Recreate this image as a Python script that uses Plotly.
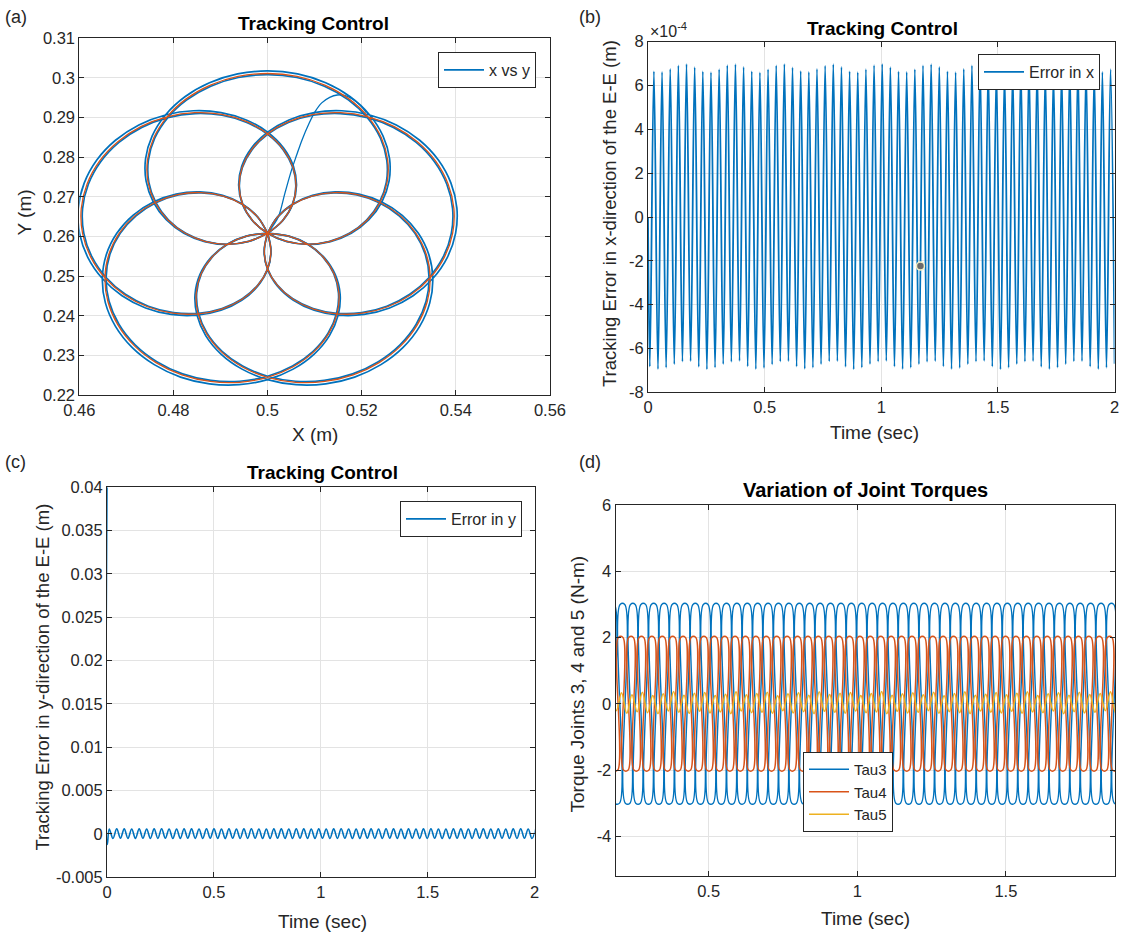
import numpy as np
import plotly.graph_objects as go

W, H = 1130, 934

BLUE = "#0072BD"
ORANGE = "#D95319"
YELLOW = "#EDB120"
INK = "#262626"
GRID = "#e3e3e3"
FONT = "Liberation Sans, Arial, Helvetica, sans-serif"

# ---------------- (a) end-effector path in the X-Y plane ----------------
path_centre_x = 0.5
path_centre_y = 0.2608
petal_reach = 0.0404                        # m, centre-to-tip length of a petal
petal_axis_deg = [90, 162, 234, 306, 18]    # petal directions, traversal order
# half-petal profile: angle from the petal axis (deg), radius as fraction of reach
petal_psi_deg = [0, 9, 18, 27, 36, 45, 54, 63, 72, 81, 90, 99, 108, 117, 126]
petal_radius = [1.000, 0.994, 0.975, 0.944, 0.901, 0.847, 0.782, 0.707,
                0.623, 0.532, 0.434, 0.330, 0.223, 0.112, 0.000]
desired_reach_scale = 0.998
actual_reach_scale = [1.014, 0.991]         # two tracked laps of the actual path
# start-up transient of the actual path
start_x = [0.5000, 0.5012, 0.5023, 0.5037, 0.5051, 0.5062, 0.5073, 0.5088,
           0.5101, 0.5115, 0.5132, 0.5148, 0.5163, 0.5180, 0.5196, 0.5210]
start_y = [0.2608, 0.2628, 0.2650, 0.2710, 0.2768, 0.2806, 0.2843, 0.2885,
           0.2915, 0.2937, 0.2951, 0.2957, 0.2956, 0.2947, 0.2932, 0.2912]

# ---------------- (b) tracking error in x (units of 1e-4 m) ----------------
ex_start = 0.0
ex_first_extreme_t = 0.0078
ex_half_period = 0.01748
ex_troughs = [-6.83, -6.94, -6.88, -6.72, -6.60, -6.58,
              -6.84, -6.95, -6.87, -6.71, -6.61, -6.57,
              -6.82, -6.94, -6.89, -6.73, -6.60, -6.58,
              -6.83, -6.93, -6.88, -6.72, -6.59, -6.58,
              -6.84, -6.95, -6.87, -6.71, -6.60, -6.57,
              -6.83, -6.94, -6.88, -6.72, -6.61, -6.58,
              -6.82, -6.94, -6.89, -6.72, -6.60, -6.57,
              -6.83, -6.95, -6.88, -6.71, -6.60, -6.58,
              -6.84, -6.94, -6.87, -6.72, -6.59, -6.58,
              -6.83, -6.94, -6.88, -6.70]
ex_peaks = [6.65, 6.62, 6.76, 6.92, 6.98, 6.84,
            6.64, 6.61, 6.75, 6.93, 6.97, 6.85,
            6.65, 6.60, 6.74, 6.92, 6.98, 6.83,
            6.66, 6.62, 6.76, 6.91, 6.97, 6.85,
            6.65, 6.61, 6.75, 6.93, 6.98, 6.84,
            6.64, 6.62, 6.74, 6.92, 6.97, 6.85,
            6.65, 6.61, 6.76, 6.92, 6.98, 6.84,
            6.66, 6.62, 6.75, 6.91, 6.97, 6.85,
            6.65, 6.60, 6.75, 6.93, 6.98, 6.84,
            6.64, 6.62, 6.75]
datatip_t = [1.168]
datatip_e = [-2.24]

# ---------------- (c) tracking error in y (m) ----------------
ey_start = [0.0400, -0.0012]
ey_start_t = [0.0, 0.0015]
ey_first_extreme_t = 0.0105
ey_half_period = 0.0175
ey_peaks = [0.00058, 0.00060, 0.00059, 0.00057, 0.00060, 0.00058, 0.00059, 0.00060,
            0.00058, 0.00057, 0.00060, 0.00059, 0.00058, 0.00060, 0.00059, 0.00057,
            0.00060, 0.00058, 0.00059, 0.00060, 0.00058, 0.00057, 0.00060, 0.00059,
            0.00058, 0.00060, 0.00059, 0.00057, 0.00060, 0.00058, 0.00059, 0.00060,
            0.00058, 0.00057, 0.00060, 0.00059, 0.00058, 0.00060, 0.00059, 0.00057,
            0.00060, 0.00058, 0.00059, 0.00060, 0.00058, 0.00057, 0.00060, 0.00059,
            0.00058, 0.00060, 0.00059, 0.00057, 0.00060, 0.00058, 0.00059, 0.00060,
            0.00058, 0.00059]
ey_troughs = [-0.00052, -0.00050, -0.00051, -0.00053, -0.00050, -0.00052, -0.00051, -0.00050,
              -0.00052, -0.00053, -0.00050, -0.00051, -0.00052, -0.00050, -0.00051, -0.00053,
              -0.00050, -0.00052, -0.00051, -0.00050, -0.00052, -0.00053, -0.00050, -0.00051,
              -0.00052, -0.00050, -0.00051, -0.00053, -0.00050, -0.00052, -0.00051, -0.00050,
              -0.00052, -0.00053, -0.00050, -0.00051, -0.00052, -0.00050, -0.00051, -0.00053,
              -0.00050, -0.00052, -0.00051, -0.00050, -0.00052, -0.00053, -0.00050, -0.00051,
              -0.00052, -0.00050, -0.00051, -0.00053, -0.00050, -0.00052, -0.00051, -0.00050,
              -0.00052]

# ---------------- (d) joint torques (N-m) ----------------
torque_period = 0.035
plateau_half = 0.0078
tau3_phase, tau4_phase, tau5_phase = 0.0, -0.006, -0.003
tau3_high = [3.0, 3.0, 3.0, 3.0, 3.0, 3.0, 3.0, 3.0, 3.0, 3.0, 3.0, 3.0, 3.0, 3.0, 3.0,
             3.0, 3.0, 3.0, 3.0, 3.0, 3.0, 3.0, 3.0, 3.0, 3.0, 3.0, 3.0, 3.0, 3.0, 3.0,
             3.0, 3.0, 3.0, 3.0, 3.0, 3.0, 3.0, 3.0, 3.0, 3.0, 3.0, 3.0, 3.0, 3.0, 3.0,
             3.0, 3.0, 3.0, 3.0, 3.0, 3.0, 3.0, 3.0, 3.0, 3.0, 3.0, 3.0, 3.0]
tau3_low = [-3.0, -3.0, -3.0, -3.0, -3.0, -3.0, -3.0, -3.0, -3.0, -3.0, -3.0, -3.0, -3.0, -3.0, -3.0,
            -3.0, -3.0, -3.0, -3.0, -3.0, -3.0, -3.0, -3.0, -3.0, -3.0, -3.0, -3.0, -3.0, -3.0, -3.0,
            -3.0, -3.0, -3.0, -3.0, -3.0, -3.0, -3.0, -3.0, -3.0, -3.0, -3.0, -3.0, -3.0, -3.0, -3.0,
            -3.0, -3.0, -3.0, -3.0, -3.0, -3.0, -3.0, -3.0, -3.0, -3.0, -3.0, -3.0, -3.0]
tau4_high = [2.0, 2.0, 2.0, 2.0, 2.0, 2.0, 2.0, 2.0, 2.0, 2.0, 2.0, 2.0, 2.0, 2.0, 2.0,
             2.0, 2.0, 2.0, 2.0, 2.0, 2.0, 2.0, 2.0, 2.0, 2.0, 2.0, 2.0, 2.0, 2.0, 2.0,
             2.0, 2.0, 2.0, 2.0, 2.0, 2.0, 2.0, 2.0, 2.0, 2.0, 2.0, 2.0, 2.0, 2.0, 2.0,
             2.0, 2.0, 2.0, 2.0, 2.0, 2.0, 2.0, 2.0, 2.0, 2.0, 2.0, 2.0, 2.0]
tau4_low = [-2.0, -2.0, -2.0, -2.0, -2.0, -2.0, -2.0, -2.0, -2.0, -2.0, -2.0, -2.0, -2.0, -2.0, -2.0,
            -2.0, -2.0, -2.0, -2.0, -2.0, -2.0, -2.0, -2.0, -2.0, -2.0, -2.0, -2.0, -2.0, -2.0, -2.0,
            -2.0, -2.0, -2.0, -2.0, -2.0, -2.0, -2.0, -2.0, -2.0, -2.0, -2.0, -2.0, -2.0, -2.0, -2.0,
            -2.0, -2.0, -2.0, -2.0, -2.0, -2.0, -2.0, -2.0, -2.0, -2.0, -2.0, -2.0, -2.0]
tau5_peak = [0.34, 0.26, 0.30, 0.36, 0.24, 0.31, 0.33, 0.27, 0.35, 0.25, 0.30, 0.37,
             0.26, 0.32, 0.34, 0.25, 0.29, 0.36, 0.27, 0.31, 0.35, 0.24, 0.30, 0.33,
             0.26, 0.36, 0.28, 0.32, 0.34, 0.25, 0.31, 0.37, 0.26, 0.30, 0.33, 0.27,
             0.35, 0.24, 0.31, 0.36, 0.26, 0.29, 0.34, 0.27, 0.32, 0.36, 0.25, 0.30,
             0.33, 0.26, 0.35, 0.28, 0.31, 0.36, 0.24, 0.30, 0.34, 0.27]
tau5_trough = [-0.27, -0.22, -0.30, -0.25, -0.28, -0.21, -0.29, -0.24, -0.27, -0.30,
               -0.22, -0.26, -0.29, -0.23, -0.28, -0.25, -0.30, -0.22, -0.27, -0.26,
               -0.29, -0.21, -0.28, -0.24, -0.30, -0.23, -0.26, -0.29, -0.22, -0.27,
               -0.25, -0.30, -0.23, -0.28, -0.26, -0.21, -0.29, -0.24, -0.27, -0.30,
               -0.22, -0.26, -0.28, -0.23, -0.29, -0.25, -0.27, -0.22, -0.30, -0.24,
               -0.28, -0.26, -0.21, -0.29, -0.25, -0.27, -0.23, -0.28]


# ---------------- helpers ----------------
def paper_x(px):
    return px / W


def paper_y(py):
    return 1 - py / H


def rose_path(scale):
    psi = np.concatenate([-np.array(petal_psi_deg[::-1], float), np.array(petal_psi_deg[1:], float)])
    rad = np.concatenate([np.array(petal_radius[::-1]), np.array(petal_radius[1:])])
    xs, ys = [], []
    for axis in petal_axis_deg:
        ang = np.deg2rad(axis + psi)
        r = petal_reach * scale * rad
        xs.extend(path_centre_x + r * np.cos(ang))
        ys.extend(path_centre_y + r * np.sin(ang))
    return xs, ys


def alternating(first_t, half_period, first_list, second_list):
    ts, vs = [], []
    n = len(first_list) + len(second_list)
    for i in range(n):
        ts.append(first_t + i * half_period)
        vs.append(first_list[i // 2] if i % 2 == 0 else second_list[i // 2])
    return ts, vs


def square_wave(high, low, phase):
    ts, vs = [], []
    for k in range(len(high)):
        c = k * torque_period + phase
        ts += [c - plateau_half, c + plateau_half]
        vs += [high[k], high[k]]
        c2 = c + torque_period / 2
        ts += [c2 - plateau_half, c2 + plateau_half]
        vs += [low[k], low[k]]
    return ts, vs


fig = go.Figure()

# ---- (a) ----
for i, s in enumerate(actual_reach_scale):
    ax_, ay_ = rose_path(s)
    fig.add_trace(go.Scatter(x=ax_, y=ay_, mode="lines", line=dict(color=BLUE, width=1.7, shape="spline"),
                             name="x vs y", showlegend=(i == 0), legend="legend",
                             xaxis="x", yaxis="y", hoverinfo="skip"))
fig.add_trace(go.Scatter(x=start_x, y=start_y, mode="lines", line=dict(color=BLUE, width=1.3, shape="spline"),
                         showlegend=False, xaxis="x", yaxis="y", hoverinfo="skip"))
dx_, dy_ = rose_path(desired_reach_scale)
fig.add_trace(go.Scatter(x=dx_, y=dy_, mode="lines", line=dict(color=ORANGE, width=1.3, shape="spline"),
                         showlegend=False, xaxis="x", yaxis="y", hoverinfo="skip"))

# ---- (b) ----
tb, vb = alternating(ex_first_extreme_t, ex_half_period, ex_troughs, ex_peaks)
fig.add_trace(go.Scatter(x=[ex_start] + tb, y=[0.0] + vb, mode="lines",
                         line=dict(color=BLUE, width=1.8, shape="spline"),
                         name="Error in x", legend="legend2", xaxis="x2", yaxis="y2", hoverinfo="skip"))
fig.add_trace(go.Scatter(x=datatip_t, y=datatip_e, mode="markers",
                         marker=dict(color="#6b6b6b", size=8, line=dict(color="#f3efc4", width=1.5)),
                         showlegend=False, xaxis="x2", yaxis="y2", hoverinfo="skip"))

# ---- (c) ----
tc, vc = alternating(ey_first_extreme_t, ey_half_period, ey_peaks, ey_troughs)
fig.add_trace(go.Scatter(x=ey_start_t + tc, y=ey_start + vc, mode="lines",
                         line=dict(color=BLUE, width=1.6, shape="spline"),
                         name="Error in y", legend="legend3", xaxis="x3", yaxis="y3", hoverinfo="skip"))

# ---- (d) ----
t3, v3 = square_wave(tau3_high, tau3_low, tau3_phase)
t4, v4 = square_wave(tau4_high, tau4_low, tau4_phase)
t5, v5 = alternating(tau5_phase, torque_period / 2, tau5_peak, tau5_trough)
fig.add_trace(go.Scatter(x=t3, y=v3, mode="lines", line=dict(color=BLUE, width=1.4, shape="spline"),
                         name="Tau3", legend="legend4", xaxis="x4", yaxis="y4", hoverinfo="skip"))
fig.add_trace(go.Scatter(x=t4, y=v4, mode="lines", line=dict(color=ORANGE, width=1.4, shape="spline"),
                         name="Tau4", legend="legend4", xaxis="x4", yaxis="y4", hoverinfo="skip"))
fig.add_trace(go.Scatter(x=t5, y=v5, mode="lines", line=dict(color=YELLOW, width=1.5, shape="spline"),
                         name="Tau5", legend="legend4", xaxis="x4", yaxis="y4", hoverinfo="skip"))

# ---------------- axes ----------------
axis_style = dict(showline=True, linecolor=INK, linewidth=1, mirror="allticks", ticks="inside",
                  ticklen=5, tickcolor=INK, showgrid=True, gridcolor=GRID, gridwidth=1,
                  zeroline=False, automargin=False,
                  tickfont=dict(family=FONT, size=16.5, color=INK), fixedrange=True)


def ax(**kw):
    d = dict(axis_style)
    d.update(kw)
    return d


fig.update_layout(
    template="none",
    width=W, height=H, margin=dict(l=0, r=0, t=0, b=0, pad=0, autoexpand=False),
    paper_bgcolor="white", plot_bgcolor="white", showlegend=True,
    xaxis=ax(domain=[paper_x(79.3), paper_x(550)], anchor="y", range=[0.46, 0.56],
             tickvals=[0.46, 0.48, 0.5, 0.52, 0.54, 0.56],
             ticktext=["0.46", "0.48", "0.5", "0.52", "0.54", "0.56"]),
    yaxis=ax(domain=[paper_y(395), paper_y(38.3)], anchor="x", range=[0.22, 0.31],
             tickvals=[0.22, 0.23, 0.24, 0.25, 0.26, 0.27, 0.28, 0.29, 0.3, 0.31],
             ticktext=["0.22", "0.23", "0.24", "0.25", "0.26", "0.27", "0.28", "0.29", "0.3", "0.31"]),
    xaxis2=ax(domain=[paper_x(648), paper_x(1114.5)], anchor="y2", range=[0, 2],
              tickvals=[0, 0.5, 1, 1.5, 2], ticktext=["0", "0.5", "1", "1.5", "2"]),
    yaxis2=ax(domain=[paper_y(392.3), paper_y(41.7)], anchor="x2", range=[-8, 8],
              tickvals=[-8, -6, -4, -2, 0, 2, 4, 6, 8],
              ticktext=["-8", "-6", "-4", "-2", "0", "2", "4", "6", "8"]),
    xaxis3=ax(domain=[paper_x(107), paper_x(534.5)], anchor="y3", range=[0, 2],
              tickvals=[0, 0.5, 1, 1.5, 2], ticktext=["0", "0.5", "1", "1.5", "2"]),
    yaxis3=ax(domain=[paper_y(877.3), paper_y(487.3)], anchor="x3", range=[-0.005, 0.04],
              tickvals=[-0.005, 0, 0.005, 0.01, 0.015, 0.02, 0.025, 0.03, 0.035, 0.04],
              ticktext=["-0.005", "0", "0.005", "0.01", "0.015", "0.02", "0.025", "0.03", "0.035", "0.04"]),
    xaxis4=ax(domain=[paper_x(615.6), paper_x(1115.3)], anchor="y4", range=[0.187, 1.868],
              tickvals=[0.5, 1, 1.5], ticktext=["0.5", "1", "1.5"]),
    yaxis4=ax(domain=[paper_y(876), paper_y(505)], anchor="x4", range=[-5.2, 6],
              tickvals=[-4, -2, 0, 2, 4, 6], ticktext=["-4", "-2", "0", "2", "4", "6"]),
)

legend_style = dict(bgcolor="white", bordercolor=INK, borderwidth=1,
                    font=dict(family=FONT, size=16, color=INK), tracegroupgap=0,
                    xanchor="right", yanchor="top", itemwidth=40)
fig.update_layout(
    legend=dict(legend_style, x=paper_x(536), y=paper_y(52)),
    legend2=dict(legend_style, x=paper_x(1100), y=paper_y(54)),
    legend3=dict(legend_style, x=paper_x(522), y=paper_y(501)),
    legend4=dict(legend_style, x=paper_x(893), y=paper_y(752),
                 font=dict(family=FONT, size=15, color=INK)),
)

# ---------------- text ----------------
notes = []


def note(text, px, py, size=19, bold=False, angle=0, color=INK, xanchor="center"):
    notes.append(dict(text=f"<b>{text}</b>" if bold else text, x=paper_x(px), y=paper_y(py),
                      xref="paper", yref="paper", showarrow=False, textangle=angle,
                      xanchor=xanchor, yanchor="middle",
                      font=dict(family=FONT, size=size, color=color)))


# panel tags
note("(a)", 15.5, 17, size=18)
note("(b)", 589.5, 17, size=18)
note("(c)", 15.5, 462, size=18)
note("(d)", 589.5, 462, size=18)
# titles
note("Tracking Control", 313, 24, size=19, bold=True, color="#000000")
note("Tracking Control", 882.5, 28, size=19, bold=True, color="#000000")
note("Tracking Control", 322.7, 472, size=19, bold=True, color="#000000")
note("Variation of Joint Torques", 866, 490, size=20, bold=True, color="#000000")
# axis titles
note("X (m)", 314.5, 435)
note("Y (m)", 24, 212.5, angle=-90)
note("Time (sec)", 874, 433)
note("Tracking Error in x-direction of the E-E (m)", 610, 214, angle=-90, size=18.5)
note("Time (sec)", 322.7, 921.5)
note("Tracking Error in y-direction of the E-E (m)", 42, 677.5, angle=-90, size=18.5)
note("Time (sec)", 866, 918)
note("Torque Joints 3, 4 and 5 (N-m)", 576.5, 684, angle=-90)
# exponent of the (b) y axis
note("\u00d710<sup>-4</sup>", 648, 30, size=16, xanchor="left")

fig.update_layout(annotations=notes)

fig.write_html("out.html", config={"displayModeBar": False})
